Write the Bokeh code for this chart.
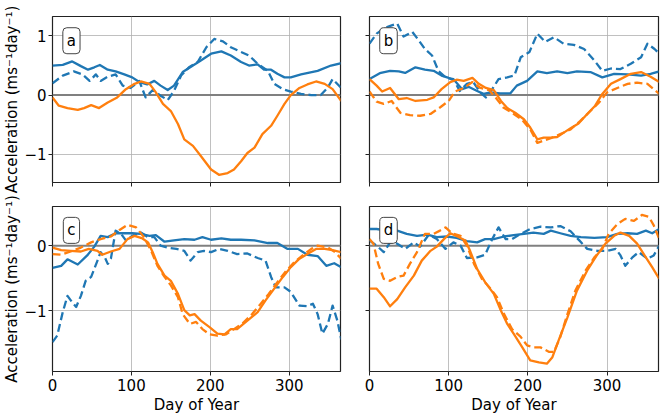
from bokeh.plotting import figure
from bokeh.layouts import column, row
from bokeh.models import Span, Label, Range1d, FixedTicker
from bokeh.embed import file_html
from bokeh.resources import INLINE

BLUE = "#1f77b4"
ORANGE = "#ff7f0e"
FONT = "DejaVu Sans"

# ---------------- data (day of year, acceleration) ----------------
# Panel a
A_BS_D = [0, 13, 25, 36, 45, 53, 60, 70, 80, 91, 101, 110, 120, 129, 137, 146, 154, 165, 178, 188, 201, 214, 226, 239, 249, 260, 268, 277, 285, 294, 302, 315, 336, 353, 366]
A_BS_V = [0.50, 0.51, 0.57, 0.49, 0.43, 0.47, 0.51, 0.43, 0.40, 0.35, 0.30, 0.22, 0.18, 0.24, 0.16, 0.085, 0.16, 0.39, 0.50, 0.585, 0.70, 0.74, 0.67, 0.56, 0.50, 0.52, 0.43, 0.43, 0.36, 0.30, 0.30, 0.35, 0.41, 0.50, 0.54]
A_BD_D = [0, 13, 27, 38, 47, 55, 61, 70, 80, 89, 99, 110, 118, 127, 137, 146, 154, 163, 173, 184, 195, 205, 216, 226, 239, 249, 260, 273, 281, 292, 302, 315, 328, 340, 349, 355, 366]
A_BD_V = [0.20, 0.33, 0.40, 0.35, 0.24, 0.35, 0.24, 0.31, 0.35, 0.16, 0.12, 0.24, -0.04, 0.085, -0.01, -0.085, 0.07, 0.33, 0.47, 0.56, 0.81, 0.95, 0.91, 0.81, 0.73, 0.67, 0.53, 0.41, 0.19, 0.10, 0.06, 0.02, 0.0, 0.0, 0.13, 0.27, 0.12]
A_OS_D = [0, 8, 19, 32, 40, 49, 59, 70, 82, 93, 104, 112, 123, 131, 140, 150, 159, 167, 178, 188, 201, 211, 222, 230, 239, 247, 256, 266, 277, 285, 294, 302, 313, 323, 334, 345, 355, 366]
A_OS_V = [-0.04, -0.18, -0.22, -0.25, -0.22, -0.17, -0.22, -0.125, -0.04, 0.10, 0.19, 0.23, 0.19, 0.045, -0.15, -0.27, -0.49, -0.75, -0.86, -1.03, -1.26, -1.35, -1.32, -1.26, -1.12, -0.98, -0.89, -0.66, -0.52, -0.35, -0.15, 0.0, 0.12, 0.18, 0.23, 0.19, 0.10, -0.10]

# Panel b
B_BS_D = [0, 13, 26, 37, 45, 58, 70, 81, 91, 100, 108, 117, 125, 136, 144, 153, 165, 178, 186, 199, 212, 224, 237, 250, 262, 279, 294, 309, 326, 343, 355, 366]
B_BS_V = [0.27, 0.37, 0.41, 0.40, 0.375, 0.47, 0.43, 0.41, 0.33, 0.29, 0.24, 0.10, 0.14, 0.07, 0.02, 0.045, 0.03, 0.03, 0.16, 0.24, 0.40, 0.37, 0.40, 0.37, 0.40, 0.39, 0.30, 0.36, 0.35, 0.33, 0.36, 0.40]
B_BD_D = [0, 9, 20, 28, 35, 43, 54, 62, 70, 79, 87, 96, 106, 114, 123, 131, 140, 147, 155, 163, 174, 183, 191, 202, 212, 222, 233, 245, 258, 271, 284, 294, 305, 317, 330, 343, 351, 360, 366]
B_BD_V = [0.87, 1.04, 1.14, 1.18, 1.21, 0.99, 1.07, 0.93, 0.78, 0.67, 0.41, 0.30, 0.27, 0.07, 0.19, 0.22, 0.045, -0.04, 0.10, 0.27, 0.30, 0.33, 0.64, 0.73, 1.04, 0.90, 0.98, 0.87, 0.85, 0.78, 0.585, 0.41, 0.45, 0.44, 0.53, 0.64, 0.87, 0.78, 0.70]
B_OS_D = [0, 9, 16, 26, 37, 47, 58, 73, 81, 91, 102, 110, 119, 130, 138, 147, 157, 166, 174, 184, 195, 203, 212, 220, 229, 237, 245, 254, 264, 275, 285, 294, 305, 317, 330, 343, 355, 366]
B_OS_V = [0.27, 0.16, 0.06, 0.12, -0.07, -0.05, -0.10, -0.08, -0.04, 0.10, 0.22, 0.26, 0.24, 0.29, 0.19, 0.12, 0.085, -0.10, -0.22, -0.30, -0.41, -0.55, -0.75, -0.72, -0.72, -0.71, -0.64, -0.56, -0.48, -0.32, -0.18, 0.02, 0.19, 0.27, 0.36, 0.39, 0.31, 0.22]
B_OD_D = [0, 9, 18, 28, 39, 51, 64, 77, 89, 100, 108, 119, 130, 140, 151, 161, 169, 180, 192, 203, 212, 220, 229, 241, 254, 266, 279, 290, 300, 313, 326, 338, 351, 359, 366]
B_OD_V = [0.06, -0.11, -0.15, -0.10, -0.30, -0.34, -0.35, -0.32, -0.21, -0.10, 0.06, 0.12, 0.22, 0.12, 0.085, -0.07, -0.21, -0.30, -0.41, -0.58, -0.81, -0.77, -0.73, -0.66, -0.58, -0.44, -0.27, -0.125, 0.045, 0.12, 0.19, 0.21, 0.19, 0.10, 0.02]

# Panel c
C_BS_D = [0, 11, 19, 32, 44, 53, 61, 70, 80, 91, 101, 112, 123, 131, 142, 154, 167, 180, 190, 201, 214, 226, 239, 256, 273, 285, 298, 311, 323, 336, 347, 357, 366]
C_BS_V = [-0.34, -0.31, -0.21, -0.29, -0.15, -0.015, 0.15, 0.13, 0.19, 0.19, 0.19, 0.18, 0.15, 0.16, 0.06, 0.08, 0.10, 0.09, 0.13, 0.09, 0.11, 0.09, 0.09, 0.08, 0.04, 0.04, -0.05, -0.05, -0.14, -0.16, -0.31, -0.27, -0.33]
C_BD_D = [0, 6, 13, 19, 25, 30, 36, 42, 49, 57, 61, 66, 70, 74, 80, 87, 93, 101, 112, 121, 129, 137, 146, 157, 167, 175, 184, 192, 201, 211, 222, 234, 247, 260, 270, 277, 283, 294, 302, 313, 323, 330, 336, 342, 349, 355, 361, 366]
C_BD_V = [-1.48, -1.38, -1.02, -0.77, -0.87, -0.94, -0.77, -0.54, -0.48, -0.23, -0.10, -0.17, -0.28, -0.20, 0.23, 0.18, 0.08, 0.15, 0.20, 0.13, 0.13, 0.0, -0.03, -0.05, -0.08, -0.23, -0.10, -0.08, -0.10, -0.05, -0.08, -0.13, -0.12, -0.19, -0.23, -0.48, -0.64, -0.64, -0.71, -0.92, -0.93, -0.89, -1.05, -1.35, -1.20, -0.92, -1.15, -1.44]
C_OS_D = [0, 11, 23, 36, 46, 57, 63, 74, 85, 95, 104, 114, 121, 127, 133, 142, 150, 159, 167, 174, 180, 188, 199, 209, 218, 226, 234, 247, 260, 270, 281, 292, 302, 313, 323, 334, 345, 355, 366]
C_OS_V = [-0.03, -0.07, -0.08, -0.09, -0.05, -0.08, -0.14, -0.09, -0.05, 0.10, 0.15, 0.11, 0.05, -0.10, -0.28, -0.46, -0.54, -0.74, -0.99, -1.07, -1.05, -1.15, -1.25, -1.35, -1.36, -1.28, -1.28, -1.15, -1.02, -0.84, -0.66, -0.48, -0.33, -0.20, -0.13, -0.05, -0.05, -0.07, -0.10]
C_OD_D = [0, 11, 23, 36, 49, 61, 74, 85, 95, 106, 116, 125, 133, 142, 150, 159, 165, 174, 182, 190, 199, 209, 220, 230, 241, 253, 264, 274, 285, 296, 306, 317, 328, 336, 349, 357, 366]
C_OD_V = [-0.13, -0.14, -0.09, -0.03, 0.05, 0.10, 0.14, 0.24, 0.32, 0.28, 0.13, -0.08, -0.31, -0.48, -0.61, -0.79, -1.05, -1.20, -1.17, -1.28, -1.36, -1.38, -1.36, -1.28, -1.19, -1.05, -0.89, -0.74, -0.56, -0.39, -0.26, -0.15, -0.05, 0.0, -0.03, -0.09, -0.20]

# Panel d
D_BS_D = [0, 9, 22, 35, 47, 60, 73, 85, 98, 110, 123, 136, 146, 157, 170, 182, 195, 207, 220, 229, 241, 254, 267, 284, 300, 313, 326, 338, 349, 357, 366]
D_BS_V = [0.255, 0.255, 0.23, 0.23, 0.18, 0.15, 0.17, 0.13, 0.14, 0.12, 0.07, 0.05, 0.10, 0.10, 0.14, 0.16, 0.18, 0.20, 0.18, 0.23, 0.19, 0.15, 0.13, 0.12, 0.13, 0.18, 0.19, 0.18, 0.23, 0.19, 0.255]
D_BD_D = [0, 9, 18, 26, 35, 45, 56, 64, 75, 85, 96, 106, 115, 123, 136, 146, 155, 163, 172, 180, 191, 203, 216, 229, 241, 254, 265, 275, 288, 300, 311, 317, 323, 332, 340, 351, 359, 366]
D_BD_V = [0.08, 0.0, -0.10, 0.05, 0.03, -0.05, 0.05, -0.015, 0.17, 0.10, -0.05, 0.05, 0.0, -0.19, -0.18, -0.14, 0.10, 0.28, 0.10, 0.10, 0.18, 0.255, 0.29, 0.28, 0.30, 0.22, 0.08, -0.05, -0.08, -0.08, -0.05, -0.15, -0.31, -0.18, -0.10, -0.20, -0.15, 0.0]
D_OS_D = [0, 9, 18, 26, 35, 45, 56, 66, 77, 85, 94, 102, 113, 121, 127, 136, 146, 157, 165, 174, 182, 193, 203, 214, 224, 231, 239, 250, 262, 275, 287, 298, 309, 317, 328, 338, 349, 357, 366]
D_OS_V = [-0.66, -0.66, -0.79, -0.93, -0.82, -0.64, -0.46, -0.23, -0.08, -0.015, 0.10, 0.19, 0.13, 0.08, -0.08, -0.36, -0.56, -0.74, -0.97, -1.20, -1.35, -1.56, -1.76, -1.79, -1.81, -1.71, -1.45, -1.10, -0.69, -0.38, -0.15, 0.03, 0.15, 0.20, 0.15, 0.03, -0.18, -0.33, -0.51]
D_OD_D = [0, 5, 11, 18, 26, 35, 43, 51, 60, 70, 81, 89, 96, 104, 115, 123, 132, 142, 153, 161, 170, 180, 191, 199, 208, 216, 227, 233, 241, 250, 260, 273, 284, 294, 302, 313, 323, 334, 344, 353, 359, 366]
D_OD_V = [0.10, 0.03, -0.28, -0.51, -0.54, -0.48, -0.46, -0.28, -0.10, 0.18, 0.18, 0.23, 0.28, 0.19, 0.15, 0.0, -0.28, -0.51, -0.66, -0.79, -1.05, -1.28, -1.40, -1.53, -1.56, -1.56, -1.63, -1.63, -1.40, -1.05, -0.69, -0.38, -0.18, -0.05, 0.18, 0.33, 0.41, 0.38, 0.47, 0.44, 0.31, 0.10]

PANEL_LETTERS = ["a", "b", "c", "d"]
X_TICKS = [0, 100, 200, 300]
Y_LABEL = "Acceleration (ms\u207b\u00b9day\u207b\u00b9)"
X_LABEL = "Day of Year"
TOP_YRANGE = (-1.48, 1.33)
BOT_YRANGE = (-1.93, 0.60)


def hide_labels(ax):
    ax.major_label_text_color = None
    ax.major_label_text_font_size = "0px"
    ax.major_label_standoff = 0


def make_panel(letter, series, yr, yticks, left, bottom, label_y):
    fw = 288 if left else 289
    fh = 166 if not bottom else 165
    p = figure(frame_width=fw, frame_height=fh, output_backend="svg",
               toolbar_location=None, x_range=Range1d(0, 365),
               y_range=Range1d(*yr), min_border=0)
    p.min_border_left = 52 if left else 24
    p.min_border_right = 5 if left else 3
    p.min_border_top = 16 if not bottom else 12
    p.min_border_bottom = 12 if not bottom else 40
    p.background_fill_color = "white"
    p.border_fill_color = "white"
    p.outline_line_color = "#222222"
    p.outline_line_width = 1.2

    for ax in (p.xaxis[0], p.yaxis[0]):
        ax.axis_line_color = None
        ax.major_tick_line_color = "#222222"
        ax.major_tick_in = 0
        ax.major_tick_out = 4
        ax.minor_tick_line_color = None
        ax.major_label_text_font = FONT
        ax.major_label_text_font_size = "15px"
        ax.major_label_text_color = "black"
        ax.axis_label_text_font = FONT
        ax.axis_label_text_font_size = "15px"
        ax.axis_label_text_font_style = "normal"
        ax.axis_label_text_color = "black"
    p.xaxis.ticker = FixedTicker(ticks=X_TICKS)
    p.yaxis.ticker = FixedTicker(ticks=yticks)
    p.yaxis.major_label_overrides = {-1: "\u22121", 0: "0", 1: "1"}
    p.xaxis.major_label_standoff = 3
    p.yaxis.major_label_standoff = 2
    if bottom:
        p.xaxis.axis_label = X_LABEL
        p.xaxis.axis_label_standoff = 2
    else:
        hide_labels(p.xaxis[0])
    if left:
        p.yaxis.axis_label = Y_LABEL
        p.yaxis.axis_label_standoff = 0
    else:
        hide_labels(p.yaxis[0])

    p.grid.grid_line_color = "#b0b0b0"
    p.grid.grid_line_width = 0.8
    p.xgrid.ticker = FixedTicker(ticks=X_TICKS)
    p.ygrid.ticker = FixedTicker(ticks=yticks)

    p.add_layout(Span(location=0, dimension="width", line_color="#808080",
                      line_width=2, level="underlay"))

    for (d, v, color, dash) in series:
        p.line(d, v, line_color=color, line_width=2.3, line_join="round",
               line_dash=dash)

    p.add_layout(Label(x=24, y=label_y, text=letter, text_align="center",
                       text_baseline="middle", text_font=FONT,
                       text_font_size="15px", text_color="black",
                       background_fill_color="white",
                       border_line_color="#444444", border_line_width=1,
                       padding=4, border_radius=4))
    return p


pa = make_panel("a", [(A_BS_D, A_BS_V, BLUE, "solid"), (A_BD_D, A_BD_V, BLUE, "8 4"),
                      (A_OS_D, A_OS_V, ORANGE, "solid")],
                TOP_YRANGE, [-1, 0, 1], True, False, 0.92)
pb = make_panel("b", [(B_BS_D, B_BS_V, BLUE, "solid"), (B_BD_D, B_BD_V, BLUE, "8 4"),
                      (B_OS_D, B_OS_V, ORANGE, "solid"), (B_OD_D, B_OD_V, ORANGE, "8 4")],
                TOP_YRANGE, [-1, 0, 1], False, False, 0.92)
pc = make_panel("c", [(C_BS_D, C_BS_V, BLUE, "solid"), (C_BD_D, C_BD_V, BLUE, "8 4"),
                      (C_OS_D, C_OS_V, ORANGE, "solid"), (C_OD_D, C_OD_V, ORANGE, "8 4")],
                BOT_YRANGE, [-1, 0], True, True, 0.234)
pd_ = make_panel("d", [(D_BS_D, D_BS_V, BLUE, "solid"), (D_BD_D, D_BD_V, BLUE, "8 4"),
                       (D_OS_D, D_OS_V, ORANGE, "solid"), (D_OD_D, D_OD_V, ORANGE, "8 4")],
                 BOT_YRANGE, [-1, 0], False, True, 0.234)

layout = column(row(pa, pb, spacing=0), row(pc, pd_, spacing=0), spacing=0)
open("out.html", "w").write(file_html(layout, INLINE))
